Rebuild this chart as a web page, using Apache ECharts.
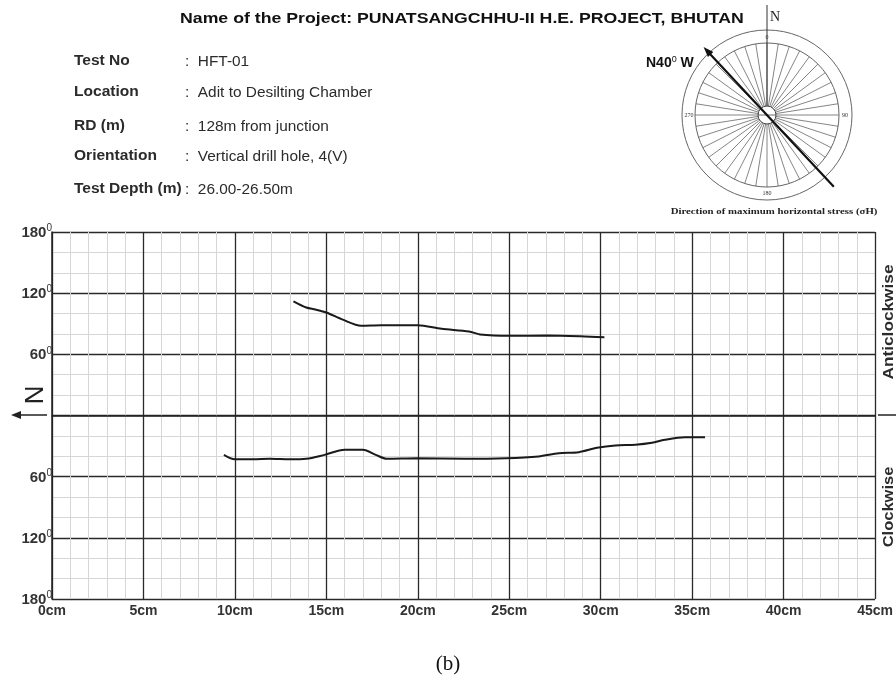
<!DOCTYPE html>
<html>
<head>
<meta charset="utf-8">
<script src="https://cdn.jsdelivr.net/npm/echarts@6/dist/echarts.min.js"></script>
<style>
  html, body { margin: 0; padding: 0; background: #fff; }
  #chart { width: 896px; height: 686px; }
</style>
</head>
<body>
<div id="chart"></div>
<script>
// depth along the hole (cm) and fracture orientation (deg, anticlockwise +, clockwise -)
let upperDepth = [13.2, 13.9, 14.4, 15.0, 15.9, 16.9, 18.0, 20.0, 21.3, 22.8, 23.4, 25.0, 27.1, 28.9, 30.2];
let upperAngle = [112, 106, 104, 101, 94, 88, 88.5, 88.5, 85, 82.5, 79.5, 78.2, 78.5, 77.8, 76.8];

let lowerDepth = [9.4, 10.0, 11.0, 11.9, 13.0, 13.9, 14.9, 16.0, 17.0, 17.7, 18.3, 19.9, 22.6, 24.8, 26.6, 27.7, 28.8, 29.8, 30.8, 31.9, 32.8, 33.5, 34.6, 35.7];
let lowerAngle = [-38.6, -43, -43, -42.5, -43, -42.5, -38.6, -33.6, -33.6, -38.6, -42.5, -42, -42.5, -42, -40.2, -37, -36, -31.7, -29.4, -28.7, -26.8, -23.8, -21.3, -21.3];

let xTicks = [0, 5, 10, 15, 20, 25, 30, 35, 40, 45];

let infoLabels = ['Test No', 'Location', 'RD (m)', 'Orientation', 'Test Depth (m)'];
let infoValues = ['HFT-01', 'Adit to Desilting Chamber', '128m from junction', 'Vertical drill hole, 4(V)', '26.00-26.50m'];

let stressBearing = -43; // drawn arrow, N40W
let inkColor = '#1a1a1a';
let textColor = '#2b2b2b';
let sans = '"Liberation Sans", Arial, sans-serif';
let serif = '"Liberation Serif", "Times New Roman", serif';

function pairs(xs, ys){
  var res = [];
  for(let i=0; i<xs.length; i++){
    res.push([xs[i], ys[i]]);
  }
  return res;
}

// header block
let graphics = [];
graphics.push({
  type: 'text', x: 180, y: 11, scaleX: 1.18,
  style: { text: 'Name of the Project: PUNATSANGCHHU-II H.E. PROJECT, BHUTAN', font: 'bold 15px ' + sans, fill: '#111' }
});
let rowY = [54, 85, 119, 149, 182];
for(let i=0; i<infoLabels.length; i++){
  graphics.push({ type: 'text', x: 74, y: rowY[i], scaleX: 1.11,
    style: { text: infoLabels[i], font: 'bold 14px ' + sans, fill: textColor } });
  graphics.push({ type: 'text', x: 185, y: rowY[i] + 1, scaleX: 1.1,
    style: { text: ':  ' + infoValues[i], font: '14px ' + sans, fill: textColor } });
}

// compass rose
let cx = 767, cy = 115;
graphics.push({ type: 'circle', shape: { cx: cx, cy: cy, r: 85 }, style: { fill: 'none', stroke: '#666', lineWidth: 1 } });
graphics.push({ type: 'circle', shape: { cx: cx, cy: cy, r: 72 }, style: { fill: 'none', stroke: '#666', lineWidth: 1 } });
for(let a=0; a<360; a+=9){
  let r = a * Math.PI / 180;
  graphics.push({ type: 'line',
    shape: { x1: cx + 9 * Math.sin(r), y1: cy - 9 * Math.cos(r), x2: cx + 72 * Math.sin(r), y2: cy - 72 * Math.cos(r) },
    style: { stroke: '#666', lineWidth: 0.8 } });
}
graphics.push({ type: 'circle', shape: { cx: cx, cy: cy, r: 9 }, style: { fill: '#fff', stroke: '#444', lineWidth: 1 } });
graphics.push({ type: 'line', shape: { x1: cx, y1: cy - 9, x2: cx, y2: 5 }, style: { stroke: '#333', lineWidth: 1 } });
graphics.push({ type: 'line', shape: { x1: cx - 9, y1: cy, x2: cx + 9, y2: cy }, style: { stroke: '#444', lineWidth: 0.8 } });
graphics.push({ type: 'text', x: 770, y: 10, style: { text: 'N', font: '14px ' + serif, fill: '#222' } });
let compassMarks = [['0', 0], ['90', 90], ['180', 180], ['270', 270]];
compassMarks.forEach(function(m){
  let r = m[1] * Math.PI / 180;
  graphics.push({ type: 'text', x: cx + 78 * Math.sin(r), y: cy - 78 * Math.cos(r),
    style: { text: m[0], font: '6px ' + serif, fill: '#333', align: 'center', verticalAlign: 'middle' },
    z: 5 });
});
let sb = stressBearing * Math.PI / 180;
graphics.push({ type: 'line',
  shape: { x1: cx - 98 * Math.sin(sb), y1: cy + 98 * Math.cos(sb), x2: cx + 88 * Math.sin(sb), y2: cy - 88 * Math.cos(sb) },
  style: { stroke: '#111', lineWidth: 2.2 }, z: 6 });
let hx = cx + 93 * Math.sin(sb), hy = cy - 93 * Math.cos(sb);
graphics.push({ type: 'polygon', z: 6,
  shape: { points: [
    [hx, hy],
    [hx + 11 * Math.sin(sb + 2.8) , hy - 11 * Math.cos(sb + 2.8)],
    [hx + 11 * Math.sin(sb - 2.8) , hy - 11 * Math.cos(sb - 2.8)]
  ] },
  style: { fill: '#111' } });
graphics.push({ type: 'text', x: 646, y: 55, z: 7,
  style: { text: '{a|N40}{b|0}{a| W}', fill: '#111',
    rich: { a: { font: 'bold 14px ' + sans, lineHeight: 15, verticalAlign: 'bottom' },
            b: { font: '9px ' + sans, lineHeight: 15, verticalAlign: 'top' } } } });
graphics.push({ type: 'text', x: 774, y: 212, scaleX: 1.2,
  style: { text: 'Direction of maximum horizontal stress (\u03c3H)', font: 'bold 9px ' + serif, fill: '#222', align: 'center', verticalAlign: 'middle' } });

// N arrow on the left of the zero line
graphics.push({ type: 'line', shape: { x1: 18, y1: 415, x2: 47, y2: 415 }, style: { stroke: '#222', lineWidth: 1.5 } });
graphics.push({ type: 'polygon', shape: { points: [[11, 415], [21, 411], [21, 419]] }, style: { fill: '#222' } });
graphics.push({ type: 'text', x: 32, y: 395, rotation: -Math.PI / 2,
  style: { text: 'N', font: '26px ' + sans, fill: '#222', align: 'center', verticalAlign: 'middle' } });
// zero line runs on past the grid to the page edge
graphics.push({ type: 'line', shape: { x1: 878, y1: 415, x2: 896, y2: 415 }, style: { stroke: '#222', lineWidth: 1.5 } });
graphics.push({ type: 'text', x: 889, y: 322, rotation: Math.PI / 2, scaleX: 1.15,
  style: { text: 'Anticlockwise', font: 'bold 15px ' + sans, fill: textColor, align: 'center', verticalAlign: 'middle' } });
graphics.push({ type: 'text', x: 889, y: 507, rotation: Math.PI / 2, scaleX: 1.1,
  style: { text: 'Clockwise', font: 'bold 15px ' + sans, fill: textColor, align: 'center', verticalAlign: 'middle' } });
graphics.push({ type: 'text', x: 448, y: 664,
  style: { text: '(b)', font: '21px ' + serif, fill: '#111', align: 'center', verticalAlign: 'middle' } });

const option = {
  animation: false,
  backgroundColor: '#fff',
  grid: { left: 52, right: 18, top: 232, bottom: 87 },
  xAxis: {
    type: 'value', min: 0, max: 45, interval: 5,
    axisLine: { show: true, lineStyle: { color: '#222', width: 1.5 } },
    axisTick: { show: false },
    axisLabel: {
      margin: 5, color: '#333',
      fontFamily: sans, fontWeight: 'bold', fontSize: 14,
      customValues: xTicks,
      formatter: function(v){ return v + 'cm'; }
    },
    splitLine: { show: true, lineStyle: { color: '#2a2a2a', width: 1.3 } },
    minorTick: { show: false, splitNumber: 5 },
    minorSplitLine: { show: true, lineStyle: { color: '#d6d6d6', width: 1 } }
  },
  yAxis: {
    type: 'value', min: -180, max: 180, interval: 60,
    axisLine: { show: true, lineStyle: { color: '#222', width: 1.5 } },
    axisTick: { show: false },
    axisLabel: {
      margin: 0, color: '#333',
      formatter: function(v){
        if(v === 0) return '';
        return '{v|' + Math.abs(v) + '}{s|0}';
      },
      rich: {
        v: { fontFamily: sans, fontWeight: 'bold', fontSize: 15, lineHeight: 17, verticalAlign: 'bottom', color: '#333' },
        s: { fontFamily: sans, fontSize: 10, lineHeight: 17, verticalAlign: 'top', color: '#333' }
      }
    },
    splitLine: { show: true, lineStyle: { color: '#2a2a2a', width: 1.3 } },
    minorTick: { show: false, splitNumber: 3 },
    minorSplitLine: { show: true, lineStyle: { color: '#d6d6d6', width: 1 } }
  },
  graphic: graphics,
  series: [
    {
      name: 'Anticlockwise', type: 'line', smooth: 0.3, showSymbol: false,
      lineStyle: { color: inkColor, width: 2 },
      data: pairs(upperDepth, upperAngle)
    },
    {
      name: 'Clockwise', type: 'line', smooth: 0.3, showSymbol: false,
      lineStyle: { color: inkColor, width: 2 },
      data: pairs(lowerDepth, lowerAngle)
    }
  ]
};

var myChart = echarts.init(document.getElementById('chart'));
myChart.setOption(option);
</script>
</body>
</html>
